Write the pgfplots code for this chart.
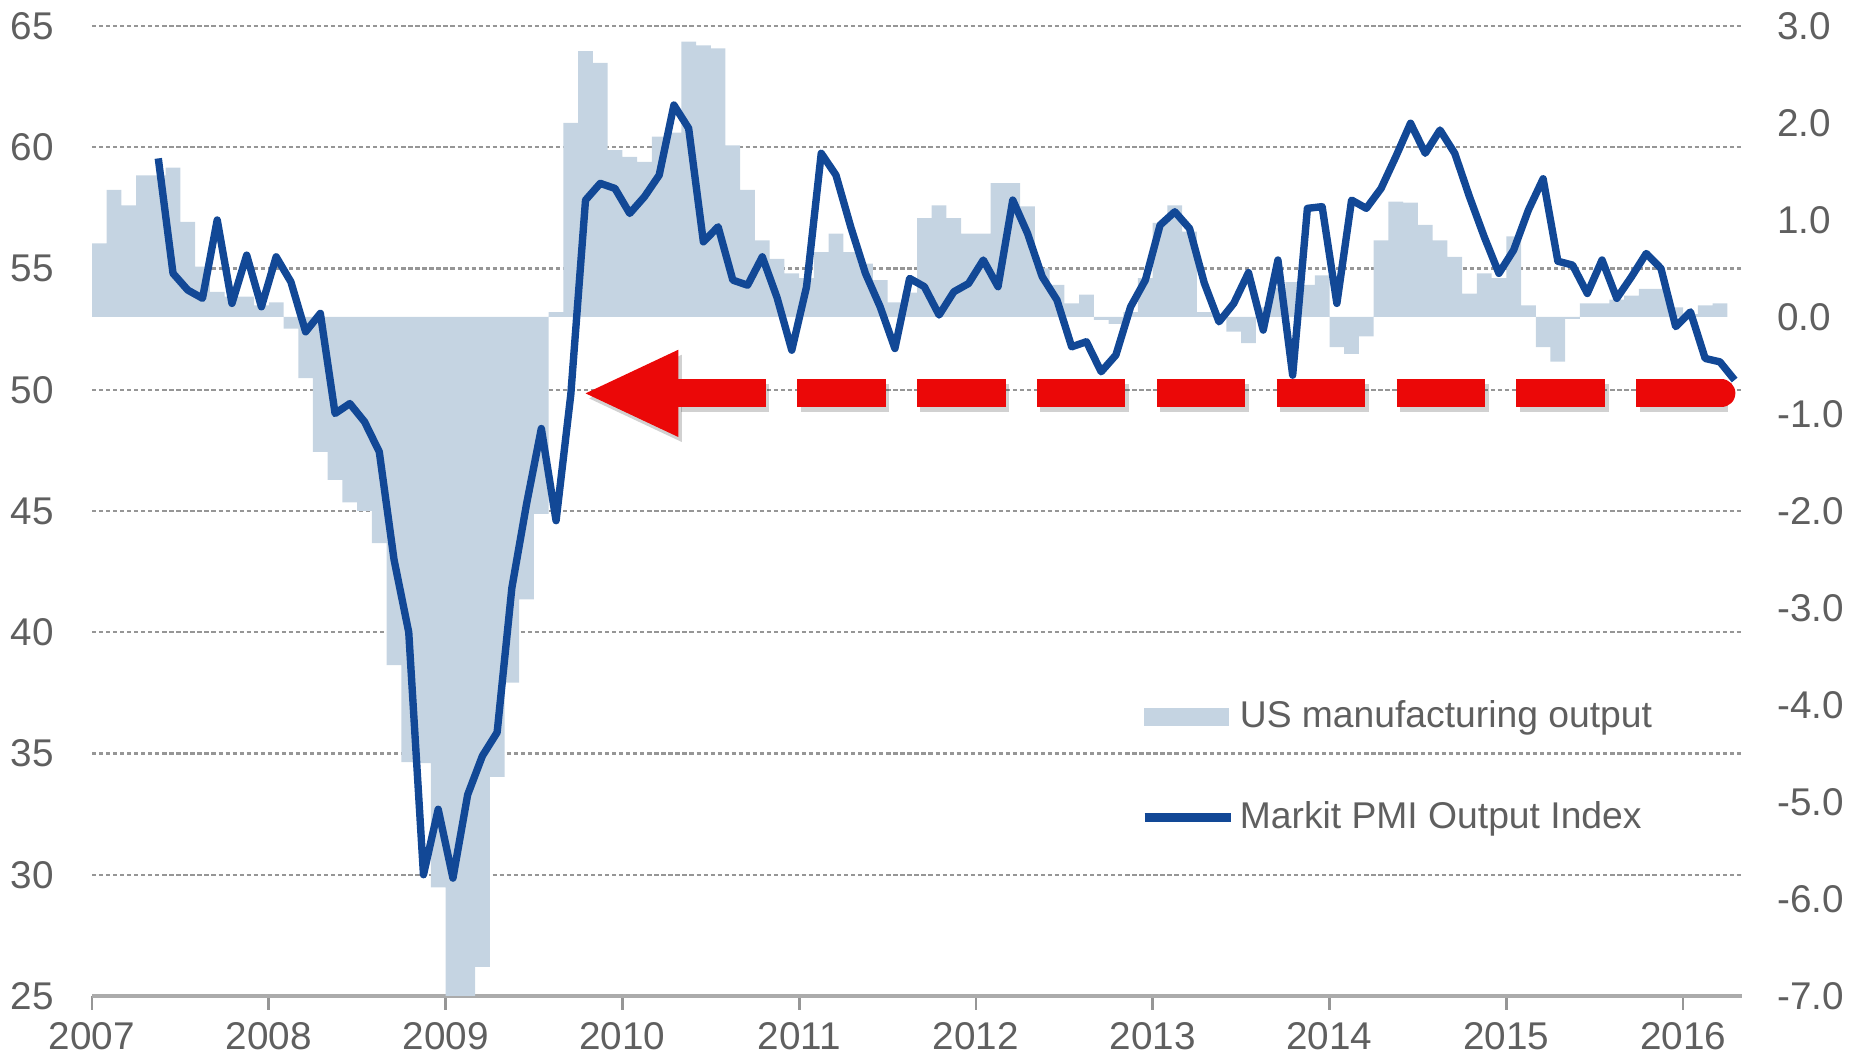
\documentclass[border=0pt]{standalone}
\usepackage{fontspec}
\setmainfont{Liberation Sans}
\usepackage{pgfplots}
\usepackage{pgfplotstable}
\pgfplotsset{compat=1.18}

\definecolor{barc}{RGB}{197,212,226}
\definecolor{linec}{RGB}{18,72,150}
\definecolor{gridc}{RGB}{150,150,150}
\definecolor{txtc}{RGB}{95,95,95}
\definecolor{arrowc}{RGB}{235,8,8}

% US manufacturing output (right axis), month index 0 = Jan 2007
\pgfplotstableread{
m v
0 0.76
1 1.31
2 1.15
3 1.46
4 1.46
5 1.54
6 0.98
7 0.52
8 0.26
9 0.21
10 0.21
11 0.12
12 0.15
13 -0.12
14 -0.63
15 -1.39
16 -1.68
17 -1.91
18 -2.00
19 -2.33
20 -3.59
21 -4.59
22 -4.60
23 -5.88
24 -7.60
25 -7.60
26 -6.70
27 -4.74
28 -3.77
29 -2.91
30 -2.03
31 0.05
32 2.00
33 2.74
34 2.62
35 1.72
36 1.65
37 1.60
38 1.86
39 1.90
40 2.84
41 2.80
42 2.77
43 1.77
44 1.31
45 0.79
46 0.60
47 0.45
48 0.40
49 0.67
50 0.86
51 0.67
52 0.55
53 0.38
54 0.15
55 0.25
56 1.02
57 1.15
58 1.02
59 0.86
60 0.86
61 1.38
62 1.38
63 1.14
64 0.50
65 0.33
66 0.14
67 0.23
68 -0.03
69 -0.07
70 0.05
71 0.40
72 0.97
73 1.15
74 0.88
75 0.05
76 0.02
77 -0.15
78 -0.27
79 0.10
80 0.30
81 0.36
82 0.33
83 0.43
84 -0.31
85 -0.38
86 -0.20
87 0.79
88 1.19
89 1.18
90 0.95
91 0.79
92 0.62
93 0.24
94 0.45
95 0.40
96 0.83
97 0.12
98 -0.31
99 -0.46
100 -0.02
101 0.14
102 0.14
103 0.18
104 0.22
105 0.29
106 0.29
107 0.10
108 0.03
109 0.12
110 0.14
}\outputdata

% Markit PMI Output Index (left axis)
\pgfplotstableread{
m v
4 59.54
5 54.80
6 54.11
7 53.77
8 57.00
9 53.56
10 55.55
11 53.42
12 55.48
13 54.45
14 52.39
15 53.15
16 49.02
17 49.43
18 48.68
19 47.44
20 43.00
21 40.00
22 30.00
23 32.70
24 29.86
25 33.30
26 34.90
27 35.87
28 41.83
29 45.30
30 48.40
31 44.60
32 49.80
33 57.82
34 58.51
35 58.30
36 57.27
37 57.96
38 58.85
39 61.74
40 60.78
41 56.10
42 56.72
43 54.52
44 54.31
45 55.48
46 53.80
47 51.63
48 54.24
49 59.75
50 58.85
51 56.72
52 54.80
53 53.42
54 51.70
55 54.59
56 54.25
57 53.08
58 54.04
59 54.38
60 55.35
61 54.25
62 57.82
63 56.45
64 54.66
65 53.70
66 51.77
67 51.98
68 50.74
69 51.43
70 53.42
71 54.52
72 56.79
73 57.34
74 56.65
75 54.40
76 52.80
77 53.56
78 54.83
79 52.46
80 55.35
81 50.60
82 57.48
83 57.55
84 53.56
85 57.82
86 57.48
87 58.30
88 59.61
89 60.99
90 59.75
91 60.71
92 59.75
93 57.96
94 56.31
95 54.80
96 55.76
97 57.41
98 58.70
99 55.30
100 55.14
101 53.97
102 55.35
103 53.77
104 54.66
105 55.62
106 55.00
107 52.60
108 53.21
109 51.29
110 51.15
111 50.40
}\pmidata

\begin{document}
\begin{tikzpicture}
\useasboundingbox (-0.92,-0.64) rectangle (17.60,9.96);
\pgfplotsset{base/.style={
  scale only axis, width=16.5cm, height=9.7cm,
  at={(0,0)}, anchor=south west,
  xmin=0, xmax=112,
  tick label style={font=\fontsize{11}{13}\selectfont, text=txtc},
  /pgf/number format/assume math mode=true,
}}

% left scale: grid, labels, time axis
\begin{axis}[base,
  ymin=25, ymax=65, ytick={25,30,...,65},
  ymajorgrids,
  grid style={gridc, dash pattern=on 1.2pt off 0.8pt, line width=0.6pt},
  axis y line*=left, axis x line*=bottom,
  y axis line style={draw=none},
  x axis line style={gridc!80, line width=1.4pt},
  ytick style={draw=none},
  xtick={0,12,...,108},
  xticklabels={2007,2008,2009,2010,2011,2012,2013,2014,2015,2016},
  xtick style={gridc, line width=0.8pt},
  xtick align=outside, major tick length=0.14cm,
  yticklabel style={xshift=-0.26cm},
]
\end{axis}

% right scale: manufacturing output bars
\begin{axis}[base,
  ymin=-7, ymax=3, ytick={-7,-6,...,3},
  axis y line*=right, axis x line=none, xtick=\empty,
  y axis line style={draw=none}, ytick style={draw=none},
  yticklabel style={xshift=0.23cm, /pgf/number format/.cd, fixed, fixed zerofill, precision=1},
  ybar, bar width=1,
]
\addplot[fill=barc, draw=none, bar shift=0pt] table[x expr=\thisrow{m}+0.5, y=v]{\outputdata};
\end{axis}

% PMI line, arrow, legend
\begin{axis}[base,
  ymin=25, ymax=65, axis lines=none,
  legend style={draw=none, fill=none, at={(0.635,0.31)}, anchor=north west,
    font=\fontsize{10.6}{12.7}\selectfont, text=txtc, row sep=0.58cm,
    inner sep=0pt, nodes={inner sep=0.05cm}},
  legend cell align=left,
]
\addlegendimage{legend image code/.code={\fill[barc] (0cm,-0.085cm) rectangle (0.84cm,0.085cm);}}
\addlegendentry{US manufacturing output}
\addplot[linec, line width=2.1pt, line join=round,
  legend image code/.code={\draw[linec, line width=2.4pt] (0cm,0cm) -- (0.86cm,0cm);}]
  table[x expr=\thisrow{m}+0.5, y=v]{\pmidata};
\addlegendentry{Markit PMI Output Index}

% soft shadow under the arrow
\begin{scope}[shift={(0.035cm,-0.05cm)}, opacity=0.18]
\draw[black, line width=0.28cm, dash pattern=on 0.886cm off 0.313cm]
  (axis cs:39.72,49.85) -- (axis cs:110.8,49.85);
\fill[black] (axis cs:33.5,49.85) -- (axis cs:39.8,51.65) -- (axis cs:39.8,48.05) -- cycle;
\end{scope}
\draw[arrowc, line width=0.28cm, dash pattern=on 0.886cm off 0.313cm]
  (axis cs:39.72,49.85) -- (axis cs:110.8,49.85);
\draw[arrowc, line width=0.28cm, line cap=round]
  (axis cs:109.5,49.85) -- (axis cs:110.6,49.85);
\fill[arrowc] (axis cs:33.5,49.85) -- (axis cs:39.8,51.65) -- (axis cs:39.8,48.05) -- cycle;
\end{axis}
\end{tikzpicture}
\end{document}
